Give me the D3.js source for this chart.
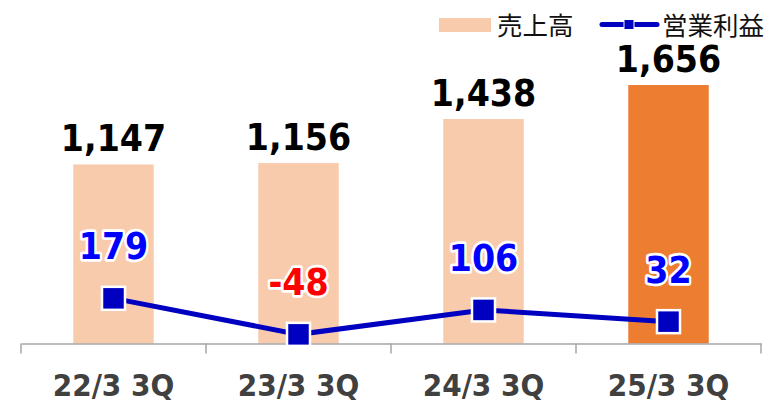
<!DOCTYPE html>
<html><head><meta charset="utf-8">
<script src="https://cdn.jsdelivr.net/npm/d3@7"></script>
<style>
html,body{margin:0;padding:0;background:#fff;}
svg{display:block;}
</style></head>
<body>
<script>
const categories = ["22/3 3Q", "23/3 3Q", "24/3 3Q", "25/3 3Q"];
const sales = [1147, 1156, 1438, 1656];
const profit = [179, -48, 106, 32];
const seriesNames = ["売上高", "営業利益"];
const barColors = ["#F8CBAD", "#F8CBAD", "#F8CBAD", "#ED7D31"];

const W = 782, H = 412;
const svg = d3.select("body").append("svg").attr("width", W).attr("height", H);

const x = d3.scaleBand().domain(categories).range([21, 761]).padding(0);
const y = d3.scaleLinear().domain([0, 2000]).range([343.5, 31.3]);
const y2 = d3.scaleLinear().domain([-100, 1000]).range([342.6, 168.1]);
const barW = x.bandwidth() * 0.435;
const cx = c => x(c) + x.bandwidth() / 2;

// bars
svg.append("g").selectAll("rect").data(categories).join("rect")
  .attr("x", c => cx(c) - barW / 2)
  .attr("width", barW)
  .attr("y", (c, i) => y(sales[i]))
  .attr("height", (c, i) => y(0) - y(sales[i]))
  .attr("fill", (c, i) => barColors[i]);

// axis
const axis = d3.axisBottom(x).tickSize(0).tickFormat("");
const ag = svg.append("g").attr("transform", `translate(0,${y(0)})`).call(axis);
ag.select(".domain").attr("stroke", "#A6A6A6").attr("stroke-width", 1.5);
const bounds = [21].concat(categories.map(c => x(c) + x.bandwidth()));
ag.selectAll(".bt").data(bounds).join("line").attr("class", "bt")
  .attr("x1", d => d).attr("x2", d => d).attr("y1", 0).attr("y2", 10)
  .attr("stroke", "#A6A6A6").attr("stroke-width", 1.5);
ag.selectAll(".cl").data(categories).join("text").attr("class", "cl")
  .attr("transform", c => `translate(${cx(c)},52) scale(1,1.05)`)
  .attr("text-anchor", "middle")
  .attr("font-family", "DejaVu Sans").attr("font-weight", "bold")
  .attr("font-size", 28).attr("fill", "#404040")
  .text(c => c);

// bar labels
svg.append("g").selectAll("text").data(categories).join("text")
  .attr("transform", (c, i) => `translate(${cx(c)},${y(sales[i]) - 13}) scale(0.98,1.08)`)
  .attr("text-anchor", "middle")
  .attr("font-family", "DejaVu Sans").attr("font-weight", "bold")
  .attr("font-size", 34).attr("fill", "#000")
  .text((c, i) => d3.format(",")(sales[i]));

// line
const line = d3.line().x((d, i) => cx(categories[i])).y(d => y2(d));
svg.append("path").datum(profit).attr("d", line)
  .attr("fill", "none").attr("stroke", "#0000C0").attr("stroke-width", 5);
const ms = 23;
svg.append("g").selectAll("rect").data(profit).join("rect")
  .attr("x", (d, i) => cx(categories[i]) - ms / 2)
  .attr("y", d => y2(d) - ms / 2)
  .attr("width", ms).attr("height", ms)
  .attr("fill", "#0000C0").attr("stroke", "#fff").attr("stroke-width", 2.5);

// line labels
svg.append("g").selectAll("text").data(profit).join("text")
  .attr("transform", (d, i) => `translate(${cx(categories[i])},${y2(d) - 39}) scale(0.98,1.08)`)
  .attr("text-anchor", "middle")
  .attr("font-family", "DejaVu Sans").attr("font-weight", "bold")
  .attr("font-size", 34)
  .attr("fill", d => d < 0 ? "#FF0000" : "#0000FF")
  .attr("stroke", "#fff").attr("stroke-width", 5).attr("stroke-linejoin", "round")
  .attr("paint-order", "stroke")
  .text(d => d);

// legend
const lg = svg.append("g");
lg.append("rect").attr("x", 439).attr("y", 18).attr("width", 52).attr("height", 14).attr("fill", "#F8CBAD");
lg.append("text").attr("x", 497).attr("y", 34.5)
  .attr("font-family", "Noto Sans CJK JP").attr("font-size", 25.5).attr("fill", "#111")
  .text(seriesNames[0]);
lg.append("line").attr("x1", 602).attr("x2", 657).attr("y1", 24.5).attr("y2", 24.5)
  .attr("stroke", "#0000C0").attr("stroke-width", 5).attr("stroke-linecap", "round");
lg.append("rect").attr("x", 624).attr("y", 19.5).attr("width", 10).attr("height", 10)
  .attr("fill", "#0000C0").attr("stroke", "#fff").attr("stroke-width", 1);
lg.append("text").attr("x", 662).attr("y", 34.5)
  .attr("font-family", "Noto Sans CJK JP").attr("font-size", 25.5).attr("fill", "#111")
  .text(seriesNames[1]);
</script>
</body></html>
